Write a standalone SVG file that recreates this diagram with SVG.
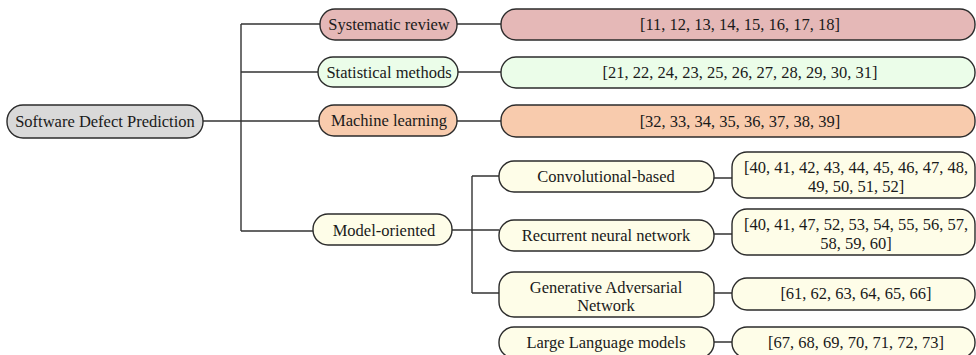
<svg xmlns="http://www.w3.org/2000/svg" width="976" height="355" viewBox="0 0 976 355">
<style>
.n{stroke:#2b2b2b;stroke-width:1.4}
.t{font-family:"Liberation Serif","Times New Roman",serif;font-size:16.5px;fill:#1a1a1a;text-anchor:middle}
.c{fill:none;stroke:#333;stroke-width:1.4}
.root{fill:#d9d9d9}.sys{fill:#e5b8b7}.stat{fill:#ebfde9}.ml{fill:#f8cbad}.mo{fill:#fefde8}
</style>
<rect width="976" height="355" fill="#fff"/>
<g id="connectors">
<path class="c" d="M203,121H319M241,24V231M241,24H320M457,24H501M241,72H318M458,72H501M457,121H501M241,231H313M452,230H499M472,176V293M472,176H499M472,293H499M714,178H732M714,234H732M714,293H732M714,342H732"/>
</g>
<g id="root"><rect class="n root" x="7" y="105" width="196" height="33" rx="16"/><text class="t" x="105" y="127">Software Defect Prediction</text></g>
<g id="systematic-review"><rect class="n sys" x="320" y="9" width="137" height="31" rx="15"/><text class="t" x="389" y="30">Systematic review</text></g>
<g id="statistical-methods"><rect class="n stat" x="318" y="57" width="140" height="30" rx="15"/><text class="t" x="389" y="77.5">Statistical methods</text></g>
<g id="machine-learning"><rect class="n ml" x="319" y="105" width="138" height="31" rx="15"/><text class="t" x="389" y="126">Machine learning</text></g>
<g id="model-oriented"><rect class="n mo" x="313" y="214" width="139" height="31" rx="15"/><text class="t" x="384" y="235.5">Model-oriented</text></g>
<g id="ref-systematic"><rect class="n sys" x="501" y="9" width="474" height="31" rx="15"/><text class="t" x="740" y="30">[11, 12, 13, 14, 15, 16, 17, 18]</text></g>
<g id="ref-statistical"><rect class="n stat" x="501" y="57" width="474" height="31" rx="15"/><text class="t" x="740" y="78">[21, 22, 24, 23, 25, 26, 27, 28, 29, 30, 31]</text></g>
<g id="ref-ml"><rect class="n ml" x="501" y="105" width="474" height="32" rx="15"/><text class="t" x="740" y="126.5">[32, 33, 34, 35, 36, 37, 38, 39]</text></g>
<g id="convolutional"><rect class="n mo" x="499" y="161" width="215" height="31" rx="15"/><text class="t" x="606" y="181.5">Convolutional-based</text></g>
<g id="recurrent"><rect class="n mo" x="499" y="220" width="215" height="31" rx="15"/><text class="t" x="606" y="240.5">Recurrent neural network</text></g>
<g id="gan"><rect class="n mo" x="499" y="272" width="215" height="45" rx="15"/><text class="t" x="606" y="292.5">Generative Adversarial</text><text class="t" x="606" y="310.5">Network</text></g>
<g id="llm"><rect class="n mo" x="499" y="327" width="215" height="31" rx="15"/><text class="t" x="606" y="347.5">Large Language models</text></g>
<g id="ref-convolutional"><rect class="n mo" x="732" y="152" width="243" height="46" rx="15"/><text class="t" x="856" y="172.5">[40, 41, 42, 43, 44, 45, 46, 47, 48,</text><text class="t" x="856" y="191.5">49, 50, 51, 52]</text></g>
<g id="ref-recurrent"><rect class="n mo" x="732" y="209" width="243" height="46" rx="15"/><text class="t" x="856" y="229.5">[40, 41, 47, 52, 53, 54, 55, 56, 57,</text><text class="t" x="856" y="248.5">58, 59, 60]</text></g>
<g id="ref-gan"><rect class="n mo" x="732" y="278" width="243" height="32" rx="15"/><text class="t" x="856" y="299">[61, 62, 63, 64, 65, 66]</text></g>
<g id="ref-llm"><rect class="n mo" x="732" y="327" width="243" height="31" rx="15"/><text class="t" x="856" y="347.5">[67, 68, 69, 70, 71, 72, 73]</text></g>
</svg>
